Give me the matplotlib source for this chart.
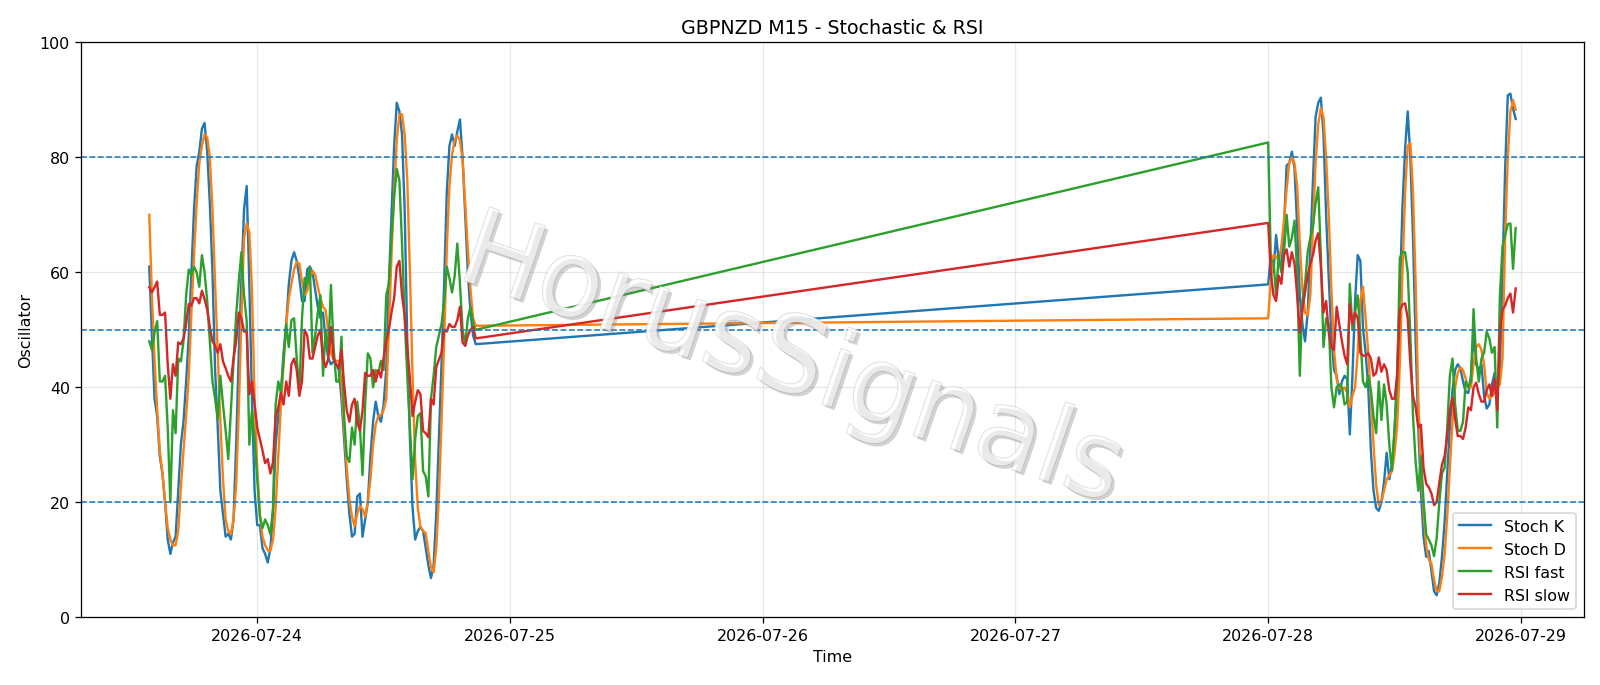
import pandas as pd
import matplotlib
matplotlib.use("Agg")
import matplotlib.pyplot as plt
import matplotlib.dates as mdates
import matplotlib.patheffects as pe

# 15-minute bars, two sessions (weekend gap in between)
times_a = pd.date_range("2026-07-23 13:45", periods=125, freq="15min")
times_b = pd.date_range("2026-07-28 00:00", periods=95, freq="15min")

stoch_k_a = [61, 49, 38, 35, 28, 25, 20, 13.5, 11, 13, 14, 22, 30, 34, 41, 49, 60, 71, 78.5, 81,
             85, 86, 81, 72, 60, 43, 33, 22, 18, 14, 14.5, 13.5, 17, 30, 46, 59, 71, 75, 58, 38,
             22, 16, 16, 12, 11, 9.5, 12, 18, 30, 35, 39, 46, 51, 58, 62, 63.5, 62, 59, 55, 55,
             60.5, 61, 60, 57, 54, 52, 53, 48, 45, 44, 44.5, 44, 43, 38, 31, 24, 18, 14, 14.5, 21,
             21.5, 14, 17, 20, 28, 34, 37.5, 35, 34, 37, 43, 58, 70, 82, 89.5, 88, 84, 71, 48, 31,
             19, 13.5, 15, 15.7, 15, 12, 9, 6.8, 9, 18, 31, 44, 58, 74, 82, 84, 82, 84.5, 86.6, 80,
             70, 60, 53, 49, 47.5]
stoch_d_a = [70, 56, 45, 36, 29, 25, 20, 15.5, 13.5, 12.5, 12.5, 15, 22.5, 29, 35, 42, 53, 63, 72, 79,
             82, 84, 83.5, 80, 71, 58, 46, 34, 24, 17, 15, 14.4, 17, 23, 36, 52, 66, 68.5, 67, 57,
             38, 26, 18, 14, 12.5, 11.6, 11.5, 13.5, 19, 28, 37, 44, 51, 55.5, 58, 60.5, 61.8, 61.5, 58.5, 56,
             56.8, 59, 60.3, 59.6, 57.5, 55.5, 54, 53.4, 49.5, 46, 44.8, 44.6, 44.6, 41, 33, 26, 20.5, 17.5, 15.8, 18,
             19.3, 18.8, 17.5, 20, 24, 30, 33.5, 35, 35.2, 36, 38, 50, 63, 74, 83, 87.5, 87.5, 84, 76, 60,
             42, 27, 19, 15.6, 15, 14.6, 11.5, 8.7, 7.8, 12, 21, 34, 48, 64, 75, 80.5, 83, 83.8, 83, 79.5,
             72, 64, 57, 52, 50.7]
rsi_fast_a = [48, 46.5, 49.5, 51.5, 41, 41, 42, 33, 20, 36, 32, 45, 44.5, 48, 56, 60.5, 59.5, 61, 60, 57.5,
              63, 60, 55, 48, 41, 38, 34.5, 42, 37, 32.5, 27.5, 36, 44.5, 52.5, 58.5, 63.5, 56, 51.5, 30, 36,
              31, 24, 17.5, 15.5, 17, 16, 14.4, 19, 37, 41, 39, 44.6, 51, 47, 51.7, 52, 45, 39, 52, 59,
              58, 61, 46, 49, 53, 56, 42, 50, 46, 57.8, 47, 41, 41, 48.8, 35, 28, 27, 33, 30, 37.5,
              33, 24.7, 37, 45.9, 45, 40, 43, 42.5, 44.6, 43, 56, 58, 66, 73, 78, 76, 65, 52, 42, 33,
              24, 31, 35, 35.5, 25.4, 24.5, 21, 38, 42, 47, 49, 51, 55, 61, 59, 56.5, 59.4, 65, 58, 50,
              47.5, 52, 54, 51, 50]
rsi_slow_a = [57.4, 56.5, 57.4, 58.4, 52.6, 52.6, 53, 44, 38, 44, 42, 47.8, 47.5, 48.5, 51, 54.5, 54.2, 55.5, 55.5, 54.6,
              56.8, 55.3, 53.5, 50.5, 48, 47.2, 46, 47.5, 44.5, 43.3, 42, 41, 45, 48, 53, 52, 49.7, 49.7, 38.8, 41,
              37, 33, 31, 29, 26.8, 27.5, 25, 27, 35, 36.5, 39, 37, 41, 38.5, 44, 45, 43, 38.5, 41, 50,
              49, 45, 45, 47, 49, 50, 45, 43.5, 45, 50.5, 45, 44, 43.3, 46.5, 40.5, 36, 34, 37, 38, 34,
              32.4, 36, 42.5, 42, 42, 43, 41, 43, 41.7, 45, 48, 50, 53, 55.5, 61, 62, 56, 52.5, 47, 41.4,
              35, 37.5, 39.5, 38.8, 32.4, 32, 31.3, 38, 37, 43.5, 44.8, 46, 50, 49.7, 51, 50.5, 50.5, 51.7, 54, 47.8,
              47.2, 49, 50, 50.5, 48.5]

stoch_k_b = [57.9, 63, 60, 66.5, 62, 60.6, 68, 78.6, 79, 81, 78, 68, 56, 51, 48, 53, 64, 76, 87, 89.5,
             90.4, 84, 70, 59, 49, 43, 42, 38.8, 41, 42, 41.4, 31.8, 42, 55, 63, 62, 50.4, 46, 40, 29,
             22, 19, 18.5, 20, 23.5, 28.6, 24, 26.5, 32, 43, 56, 71.6, 81.5, 88, 80, 66, 48, 33, 22, 14,
             10.5, 11.5, 8, 4.5, 3.8, 6, 10.5, 16.5, 25, 33, 39.5, 43, 44, 43.3, 41, 39.2, 39, 42, 49, 44,
             43, 44, 38.5, 36.3, 37, 40.5, 42.5, 39, 43, 60, 78, 90.8, 91.1, 88.5, 86.7]
stoch_d_b = [52, 58.5, 63, 62.8, 62, 64.5, 69, 74.5, 79, 80, 79, 75, 65, 57, 53, 52.5, 56, 68, 79, 85.7,
             88.6, 87, 80, 70, 57, 46.5, 41.4, 40, 39.5, 40, 39, 36.5, 38.5, 40, 46, 55, 57.5, 52, 46, 38,
             30, 23, 19.5, 20, 22, 24, 24.7, 25.4, 28.5, 33.5, 44, 60, 74, 82, 82.5, 74, 58, 38, 26, 18,
             12.5, 10, 9.3, 6.5, 4.5, 4.5, 7, 11, 17.5, 26, 34, 40, 42.5, 43.5, 43, 41.5, 40, 40, 44, 47,
             47.5, 46.5, 44, 39, 38, 38.5, 39, 40, 40.5, 45, 66, 80, 88, 90, 88.3]
rsi_fast_b = [82.6, 62, 62, 56, 63, 60, 63.5, 70, 64.5, 66, 69, 60, 42, 55, 58, 63.5, 66, 68, 72, 74.8,
              63, 47, 52, 51, 40, 36.5, 40, 40.5, 40, 37, 37.5, 58, 50, 53, 56, 49, 41, 40, 42, 39.5,
              35, 32, 41, 34.3, 40.5, 37, 30, 25.5, 33, 41, 62.5, 63.5, 63.5, 60, 49, 35, 27, 22, 28, 20.2,
              14.4, 13.5, 12.5, 10.6, 13.8, 20, 25, 26, 33, 42, 45, 37, 32.5, 32.4, 34, 41, 40, 41, 53.6, 45,
              41, 45, 46, 49.7, 48.5, 46, 47, 33, 56, 64.5, 66.5, 68.4, 68.5, 60.6, 67.7]
rsi_slow_b = [68.6, 60, 56, 55, 59.4, 58, 63, 64, 61, 63.5, 61.5, 56, 49.5, 53.5, 56.5, 59.5, 61.5, 63, 65.5, 66.8,
              61, 53, 55, 49.5, 47, 46.5, 54, 51, 48, 45.5, 44, 54.5, 51, 53, 52, 46, 45.5, 45.5, 45.9, 45,
              42, 42.5, 45.2, 42.7, 44, 43, 39.5, 38, 38, 42, 53.5, 54.4, 54.6, 52, 44, 38.5, 36.5, 33, 33.5, 26,
              23.2, 22.6, 21.5, 19.5, 20, 23.4, 26.5, 28, 31.5, 36, 38.2, 34.5, 31.5, 31.5, 31, 33, 36.5, 36, 40, 40.8,
              38.8, 37.5, 37.5, 39.5, 40.5, 38.5, 41.4, 36, 50, 53.5, 54.2, 55.5, 56.3, 53, 57.2]

levels = [80, 50, 20]

df = pd.DataFrame({
    "time": list(times_a) + list(times_b),
    "Stoch K": stoch_k_a + stoch_k_b,
    "Stoch D": stoch_d_a + stoch_d_b,
    "RSI fast": rsi_fast_a + rsi_fast_b,
    "RSI slow": rsi_slow_a + rsi_slow_b,
})

fig, ax = plt.subplots(figsize=(14, 6), dpi=1600 / 14)
fig.subplots_adjust(left=0.0506, right=0.99, top=0.937, bottom=0.099)

for name in ["Stoch K", "Stoch D", "RSI fast", "RSI slow"]:
    ax.plot(df["time"], df[name], label=name)

for lvl in levels:
    ax.axhline(lvl, linestyle="--", linewidth=1, color="C0")

ax.set_ylim(0, 100)
ax.set_title("GBPNZD M15 - Stochastic & RSI")
ax.set_xlabel("Time")
ax.set_ylabel("Oscillator")
ax.xaxis.set_major_locator(mdates.DayLocator())
ax.xaxis.set_major_formatter(mdates.DateFormatter("%Y-%m-%d"))
ax.grid(True, alpha=0.3)
ax.legend(loc="lower right")

# watermark
fig.text(0.495, 0.47, "HorusSignals", fontsize=67, rotation=-19,
         ha="center", va="center", color="white", alpha=0.55, zorder=10,
         path_effects=[pe.withStroke(linewidth=1.0, foreground="#c0c0c0"),
                       pe.SimplePatchShadow(offset=(2, -2), shadow_rgbFace="#808080", alpha=0.35),
                       pe.Normal()])

fig.savefig("out.png", dpi=1600 / 14)
